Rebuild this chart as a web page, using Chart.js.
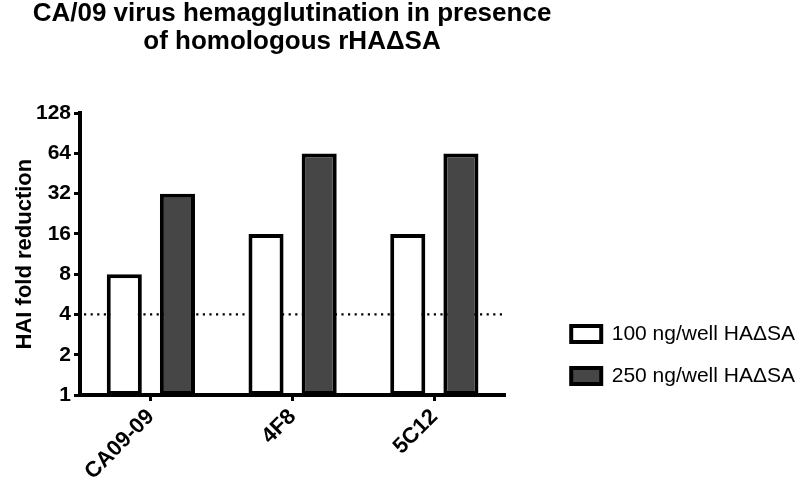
<!DOCTYPE html>
<html><head><meta charset="utf-8">
<script src="https://cdn.jsdelivr.net/npm/chart.js@4.4.1/dist/chart.umd.min.js"></script>
<style>html,body{margin:0;padding:0;background:#fff;} #wrap{width:800px;height:482px;position:relative;}</style>
</head><body><div id="wrap"><canvas id="c"></canvas></div>
<script>
const categories = ['CA09-09', '4F8', '5C12'];
const series100 = [8, 16, 16];
const series250 = [32, 64, 64];
const seriesNames = ['100 ng/well HA\u0394SA', '250 ng/well HA\u0394SA'];
const yTickValues = [1, 2, 4, 8, 16, 32, 64, 128];
const thresholdValue = 4;
const titleLines = ['CA/09 virus hemagglutination in presence', 'of homologous rHA\u0394SA'];
const yAxisTitle = 'HAI fold reduction';

const FONT = "'Liberation Sans', Arial, Helvetica, sans-serif";
Chart.defaults.font.family = FONT;
Chart.defaults.color = '#000';

// negative side paddings widen the layout's width budget so the right legend is not capped,
// and keep the full-width title centred over the plot area
const PAD_LEFT = -221;
const PAD_RIGHT = -5;
const Y_AXIS_RIGHT = 80;

const thresholdPlugin = {
  id: 'threshold',
  beforeDatasetsDraw(chart) {
    const {ctx, chartArea, scales} = chart;
    const y = scales.y.getPixelForValue(thresholdValue);
    ctx.save();
    ctx.strokeStyle = '#000';
    ctx.lineWidth = 2.2;
    ctx.setLineDash([2.2, 4.4]);
    ctx.beginPath();
    ctx.moveTo(chartArea.left + 4, y);
    ctx.lineTo(chartArea.right, y);
    ctx.stroke();
    ctx.restore();
  }
};

new Chart(document.getElementById('c'), {
  type: 'bar',
  data: {
    labels: categories,
    datasets: [
      {label: seriesNames[0], data: series100, backgroundColor: '#ffffff', borderColor: '#000', borderWidth: 4, borderSkipped: false, categoryPercentage: 0.75, barPercentage: 0.66},
      {label: seriesNames[1], data: series250, backgroundColor: '#464646', borderColor: '#000', borderWidth: 4, borderSkipped: false, categoryPercentage: 0.75, barPercentage: 0.66}
    ]
  },
  options: {
    responsive: true,
    maintainAspectRatio: false,
    animation: false,
    devicePixelRatio: 1,
    layout: {padding: {top: 0, left: PAD_LEFT, right: PAD_RIGHT, bottom: 0}},
    plugins: {
      title: {display: true, text: titleLines, fullSize: true, color: '#000',
        font: {size: 26, weight: 'bold', lineHeight: 1.08}, padding: {top: 0, bottom: 57}},
      legend: {display: true, position: 'right', align: 'start', fullSize: true,
        title: {display: true, text: ' ', font: {size: 10, lineHeight: 1.2}, padding: {top: 290.5, bottom: 0}},
        labels: {boxWidth: 30, boxHeight: 16, padding: 21, font: {size: 21}, color: '#000'}},
      tooltip: {enabled: false}
    },
    scales: {
      x: {
        type: 'category', offset: true,
        grid: {display: true, drawOnChartArea: false, offset: false, drawTicks: true, tickLength: 6, tickWidth: 3, tickColor: '#000'},
        border: {display: true, width: 4, color: '#000'},
        ticks: {autoSkip: false, minRotation: 45, maxRotation: 45, font: {size: 22, weight: 'bold'}, color: '#000', padding: 3},
        afterFit(s) { s.height = 87; }
      },
      y: {
        type: 'logarithmic', min: 1, max: 128,
        grid: {drawOnChartArea: false, drawTicks: true, tickLength: 6, tickWidth: 3, tickColor: '#000'},
        border: {display: true, width: 4, color: '#000'},
        ticks: {font: {size: 21, weight: 'bold'}, color: '#000', padding: 3, callback: (v) => String(v)},
        afterBuildTicks(s) { s.ticks = yTickValues.map(v => ({value: v})); },
        title: {display: true, text: yAxisTitle, color: '#000', font: {size: 22, weight: 'bold'}, padding: {top: 12 - PAD_LEFT, bottom: 0}},
        afterFit(s) { s.width = Y_AXIS_RIGHT - PAD_LEFT; }
      },
      yPad: {
        type: 'linear', position: 'right', display: false,
        afterFit(s) { s.width = 45; }
      }
    }
  },
  plugins: [thresholdPlugin]
});
</script>
</body></html>
